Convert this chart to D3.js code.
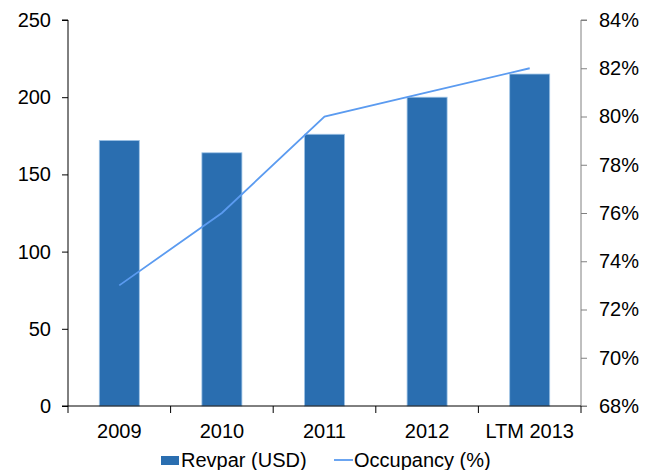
<!DOCTYPE html>
<html><head><meta charset="utf-8">
<script src="https://cdn.jsdelivr.net/npm/d3@7"></script>
<style>body{margin:0;background:#fff}svg{display:block}text{font-family:"Liberation Sans",Arial,sans-serif}</style>
</head><body>
<svg id="c" width="656" height="470"></svg>
<script>
const categories = ["2009","2010","2011","2012","LTM 2013"];
const revpar = [172,164,176,200,215];
const occupancy = [73,76,80,81,82];
const leftTicks = [0,50,100,150,200,250];
const rightTicks = [68,70,72,74,76,78,80,82,84];

const svg = d3.select("#c");
const L = 68, R = 581, T = 20, B = 406;
const FS = 20;
const x = d3.scaleBand().domain(categories).range([L,R]).paddingInner(0.61).paddingOuter(0.305);
const xb = d3.scaleBand().domain(categories).range([L,R]);
const yL = d3.scaleLinear().domain([0,250]).range([B,T]);
const yR = d3.scaleLinear().domain([68,84]).range([B,T]);

// bars
svg.append("g").selectAll("rect").data(revpar).join("rect")
  .attr("x",(d,i)=>x(categories[i])).attr("width",x.bandwidth())
  .attr("y",d=>yL(d)).attr("height",d=>B-yL(d))
  .attr("fill","#2A6EB0").attr("stroke","#9DC3E6").attr("stroke-width",0.8);

// line
const line = d3.line().x((d,i)=>xb(categories[i])+xb.bandwidth()/2).y(d=>yR(d));
svg.append("path").datum(occupancy).attr("d",line).attr("fill","none")
  .attr("stroke","#5B9BF0").attr("stroke-width",1.8);

// left axis
const gl = svg.append("g").attr("transform",`translate(${L},0)`)
  .call(d3.axisLeft(yL).tickValues(leftTicks).tickSize(6).tickPadding(11));
gl.selectAll("path,line").attr("stroke","#000");
gl.selectAll("text").attr("font-size",FS).attr("fill","#000");

// right axis
const gr = svg.append("g").attr("transform",`translate(${R},0)`)
  .call(d3.axisRight(yR).tickValues(rightTicks).tickSize(6).tickPadding(12).tickFormat(d=>d+"%"));
gr.selectAll("path,line").attr("stroke","#808080");
gr.selectAll("text").attr("font-size",FS).attr("fill","#000");
gl.select(".domain").attr("d",`M-6,${T}H0V${B}H-6`);
gr.select(".domain").attr("d",`M6,${T}H0V${B}H6`);

// bottom axis
const gb = svg.append("g").attr("transform",`translate(0,${B})`);
gb.append("line").attr("x1",L).attr("x2",R).attr("stroke","#000");
const bounds = categories.map(c=>xb(c)).concat([R]);
gb.selectAll("line.t").data(bounds).join("line").attr("class","t")
  .attr("x1",d=>d).attr("x2",d=>d).attr("y1",0).attr("y2",7).attr("stroke","#000");
gb.selectAll("text").data(categories).join("text")
  .attr("x",d=>xb(d)+xb.bandwidth()/2).attr("y",31.5).attr("text-anchor","middle")
  .attr("font-size",FS).text(d=>d);

// legend
const lg = svg.append("g");
lg.append("rect").attr("x",161).attr("y",456).attr("width",18).attr("height",9).attr("fill","#2A6EB0");
lg.append("text").attr("x",181).attr("y",466.5).attr("font-size",FS).text("Revpar (USD)");
lg.append("line").attr("x1",334).attr("x2",353).attr("y1",460).attr("y2",460).attr("stroke","#5B9BF0").attr("stroke-width",1.8);
lg.append("text").attr("x",354).attr("y",466.5).attr("font-size",FS).text("Occupancy (%)");
</script>
</body></html>
